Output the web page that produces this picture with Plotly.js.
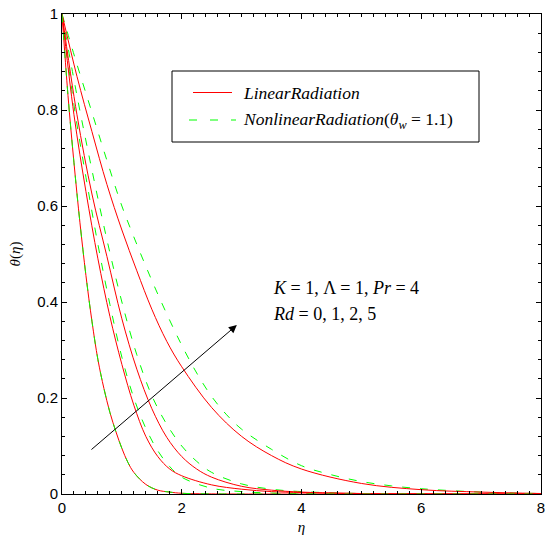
<!DOCTYPE html>
<html>
<head>
<meta charset="utf-8">
<script src="https://cdn.plot.ly/plotly-3.0.1.min.js"></script>
<style>html,body{margin:0;padding:0;background:#fff;}#chart{width:545px;height:537px;}</style>
</head>
<body>
<div id="chart"></div>
<script>
// Rd = 0 (linear and nonlinear coincide)
var eta_rd0 = [0, 0.1, 0.2, 0.3, 0.4, 0.5, 0.6, 0.7, 0.8, 0.9, 1.0, 1.1, 1.2, 1.4, 1.6, 1.8, 2.0, 2.5, 3.0, 8];
var theta_rd0 = [1, 0.83, 0.69, 0.565, 0.455, 0.36, 0.28, 0.22, 0.17, 0.13, 0.095, 0.066, 0.045, 0.02, 0.008, 0.004, 0.0015, 0.0003, 0, 0];

// Linear radiation, Rd = 1, 2, 5
var eta_lin1 = [0, 0.2, 0.4, 0.6, 0.8, 1.0, 1.2, 1.4, 1.6, 1.8, 2.0, 2.5, 3.0, 3.5, 4.0, 5.0, 8];
var theta_lin1 = [1, 0.79, 0.63, 0.49, 0.37, 0.27, 0.185, 0.12, 0.078, 0.052, 0.038, 0.019, 0.01, 0.005, 0.003, 0.001, 0];
var eta_lin2 = [0, 0.25, 0.5, 0.75, 1.0, 1.25, 1.5, 1.75, 2.0, 2.25, 2.5, 3.0, 3.5, 4.0, 5.0, 6.0, 8];
var theta_lin2 = [1, 0.79, 0.625, 0.495, 0.365, 0.26, 0.178, 0.118, 0.078, 0.052, 0.035, 0.016, 0.008, 0.004, 0.001, 0, 0];
var eta_lin5 = [0, 0.25, 0.5, 0.75, 1.0, 1.25, 1.5, 1.75, 2.0, 2.5, 3.0, 3.5, 4.0, 5.0, 6.0, 7.0, 8];
var theta_lin5 = [1, 0.87, 0.755, 0.645, 0.55, 0.465, 0.385, 0.318, 0.265, 0.18, 0.12, 0.08, 0.052, 0.022, 0.009, 0.004, 0.001];

// Nonlinear radiation (theta_w = 1.1), Rd = 1, 2, 5
var eta_non1 = [0, 0.2, 0.4, 0.6, 0.8, 1.0, 1.2, 1.4, 1.6, 1.8, 2.0, 2.5, 3.0, 3.5, 4.0, 5.0, 8];
var theta_non1 = [1, 0.81, 0.66, 0.52, 0.395, 0.285, 0.2, 0.137, 0.09, 0.057, 0.035, 0.012, 0.005, 0.002, 0.001, 0, 0];
var eta_non2 = [0, 0.25, 0.5, 0.75, 1.0, 1.25, 1.5, 1.75, 2.0, 2.25, 2.5, 3.0, 3.5, 4.0, 5.0, 6.0, 8];
var theta_non2 = [1, 0.83, 0.675, 0.53, 0.40, 0.29, 0.205, 0.145, 0.1, 0.068, 0.045, 0.021, 0.01, 0.005, 0.001, 0, 0];
var eta_non5 = [0, 0.25, 0.5, 0.75, 1.0, 1.25, 1.5, 1.75, 2.0, 2.25, 2.5, 2.75, 3.0, 3.5, 4.0, 4.5, 5.0, 5.5, 6.0, 7.0, 8];
var theta_non5 = [1, 0.895, 0.795, 0.695, 0.6, 0.52, 0.445, 0.375, 0.31, 0.252, 0.203, 0.165, 0.135, 0.093, 0.059, 0.04, 0.026, 0.017, 0.011, 0.004, 0.001];

var xTicks = [0, 2, 4, 6, 8];
var yTicks = [0, 0.2, 0.4, 0.6, 0.8, 1];
var yTickText = ['0', '0.2', '0.4', '0.6', '0.8', '1'];

var legendLabels = ['<i>LinearRadiation</i>', '<i>NonlinearRadiation</i>(<i>θ<sub>w</sub></i> = 1.1)'];
var paramLabels = ['<i>K</i> = 1, Λ = 1, <i>Pr</i> = 4', '<i>Rd</i> = 0, 1, 2, 5'];

var RED = '#ff0000', GREEN = '#00ff00';
function lin(x, y) {
  return {x: x, y: y, mode: 'lines', line: {color: RED, width: 1, shape: 'spline', smoothing: 1}, showlegend: false, hoverinfo: 'skip'};
}
function non(x, y) {
  return {x: x, y: y, mode: 'lines', line: {color: GREEN, width: 1, dash: '8px,10px', shape: 'spline', smoothing: 1}, showlegend: false, hoverinfo: 'skip'};
}
var data = [
  non(eta_non1, theta_non1), non(eta_non2, theta_non2), non(eta_non5, theta_non5),
  lin(eta_rd0, theta_rd0), lin(eta_lin1, theta_lin1), lin(eta_lin2, theta_lin2), lin(eta_lin5, theta_lin5),
  non(eta_rd0, theta_rd0)
];

var W = 545, H = 537, mL = 62, mR = 4, mT = 14, mB = 43;
var pw = W - mL - mR, ph = H - mT - mB;
function px(x) { return (x - mL) / pw; }
function py(y) { return (H - mB - y) / ph; }

var serif = 'Liberation Serif, DejaVu Serif, serif';
var sans = 'Liberation Sans, Arial, sans-serif';

var layout = {
  width: W, height: H,
  margin: {l: mL, r: mR, t: mT, b: mB, pad: 0},
  paper_bgcolor: '#fff', plot_bgcolor: '#fff',
  showlegend: false,
  xaxis: {
    range: [0, 8], tickvals: xTicks, ticktext: xTicks.map(String),
    ticks: 'inside', ticklen: 5, tickwidth: 1, tickcolor: '#000',
    showline: true, linecolor: '#000', linewidth: 1, mirror: 'ticks',
    showgrid: false, zeroline: false, ticklabeloverflow: 'allow',
    minor: {dtick: 0.2, ticks: 'inside', ticklen: 3, tickcolor: '#000', showgrid: false},
    tickfont: {family: sans, size: 15, color: '#000'},
    title: {text: '<i>η</i>', font: {family: serif, size: 15, color: '#000'}, standoff: 6}
  },
  yaxis: {
    range: [0, 1], tickvals: yTicks, ticktext: yTickText,
    ticks: 'inside', ticklen: 5, tickwidth: 1, tickcolor: '#000',
    showline: true, linecolor: '#000', linewidth: 1, mirror: 'ticks',
    showgrid: false, zeroline: false, ticklabeloverflow: 'allow',
    minor: {dtick: 0.04, ticks: 'inside', ticklen: 3, tickcolor: '#000', showgrid: false},
    tickfont: {family: sans, size: 15, color: '#000'},
    title: {text: '<i>θ</i>(<i>η</i>)', font: {family: serif, size: 15, color: '#000'}, standoff: 12}
  },
  shapes: [
    {type: 'rect', xref: 'paper', yref: 'paper', x0: px(172), x1: px(479), y0: py(142), y1: py(71),
     line: {color: '#000', width: 1}, fillcolor: '#fff', layer: 'above'},
    {type: 'line', xref: 'paper', yref: 'paper', x0: px(193), x1: px(232), y0: py(92.5), y1: py(92.5),
     line: {color: RED, width: 1}},
    {type: 'line', xref: 'paper', yref: 'paper', x0: px(189), x1: px(236), y0: py(120), y1: py(120),
     line: {color: GREEN, width: 1, dash: '8px,13px'}}
  ],
  annotations: [
    {xref: 'paper', yref: 'paper', x: px(241), y: py(92.5), xanchor: 'left', yanchor: 'middle', showarrow: false,
     text: legendLabels[0], font: {family: serif, size: 17.5, color: '#000'}},
    {xref: 'paper', yref: 'paper', x: px(241), y: py(120), xanchor: 'left', yanchor: 'middle', showarrow: false,
     text: legendLabels[1], font: {family: serif, size: 17.5, color: '#000'}},
    {xref: 'paper', yref: 'paper', x: px(271), y: py(288), xanchor: 'left', yanchor: 'middle', showarrow: false,
     text: paramLabels[0], font: {family: serif, size: 18, color: '#000'}},
    {xref: 'paper', yref: 'paper', x: px(271), y: py(314), xanchor: 'left', yanchor: 'middle', showarrow: false,
     text: paramLabels[1], font: {family: serif, size: 18, color: '#000'}},
    {xref: 'x', yref: 'y', x: 2.92, y: 0.352, axref: 'x', ayref: 'y', ax: 0.467, ay: 0.09,
     showarrow: true, arrowhead: 2, arrowsize: 1.6, arrowwidth: 1, arrowcolor: '#000', text: '', standoff: 0}
  ]
};

Plotly.newPlot('chart', data, layout, {staticPlot: true, displayModeBar: false});
</script>
</body>
</html>
